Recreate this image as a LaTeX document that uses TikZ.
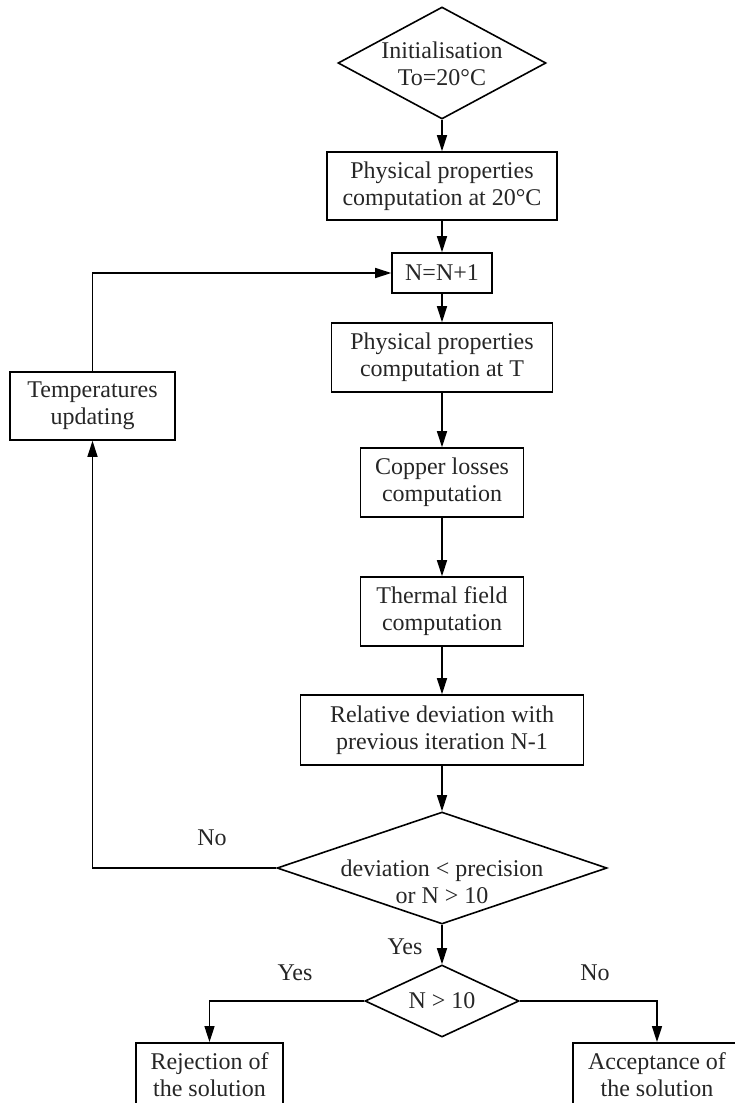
\documentclass[tikz,border=0pt]{standalone}
\usepackage{fontspec}
\setmainfont{Liberation Serif}
\usetikzlibrary{shapes.geometric,arrows.meta}
\begin{document}
\begin{tikzpicture}[x=1pt,y=-1pt,
  every node/.style={font=\fontsize{24}{27}\selectfont, text=black!85},
  box/.style={draw=black, line width=1.6pt, rectangle, inner sep=0pt, align=center},
  dia/.style={draw=black, line width=1.6pt, diamond, inner sep=0pt},
  lbl/.style={inner sep=0pt},
  arr/.style={line width=1.6pt, -{Triangle[length=16pt,width=10pt]}}]
\useasboundingbox (0,0) rectangle (735,1103);
\clip (0,0) rectangle (735,1103);
% nodes
\node[dia, minimum width=208, minimum height=112] (d1) at (442,63) {};
\node[lbl, align=center] (t1) at (442,64) {Initialisation\\To=20°C};
\node[box, minimum width=230, minimum height=68] (b2) at (442,186) {Physical properties\\computation at 20°C};
\node[box, minimum width=100, minimum height=40] (b3) at (442,273) {N=N+1};
\node[box, minimum width=221, minimum height=69] (b4) at (442,357.5) {Physical properties\\computation at T};
\node[box, minimum width=163, minimum height=69] (b5) at (442,482.5) {Copper losses\\computation};
\node[box, minimum width=163, minimum height=69] (b6) at (442,611.5) {Thermal field\\computation};
\node[box, minimum width=283, minimum height=70] (b7) at (442,730) {Relative deviation with\\previous iteration N-1};
\node[dia, minimum width=330, minimum height=112] (d2) at (442,868) {};
\node[lbl, align=center] (t2) at (442,882) {deviation < precision\\or N > 10};
\node[dia, minimum width=154, minimum height=72] (d3) at (442,1001) {};
\node[lbl] (t3) at (442,1001) {N > 10};
\node[box, minimum width=165, minimum height=68] (b8) at (92.5,406) {Temperatures\\updating};
\node[box, anchor=north, minimum width=147, minimum height=64] (b9) at (209.5,1042) {Rejection of\\the solution};
\node[box, anchor=north, minimum width=168, minimum height=64] (b10) at (657,1042) {Acceptance of\\the solution};
% labels
\node[lbl] (no1) at (212,838) {No};
\node[lbl] (yes1) at (405,947) {Yes};
\node[lbl] (yes2) at (295,973) {Yes};
\node[lbl] (no2) at (595,973) {No};
% connectors
\draw[arr] (d1.south) -- (b2.north);
\draw[arr] (b2.south) -- (b3.north);
\draw[arr] (b3.south) -- (b4.north);
\draw[arr] (b4.south) -- (b5.north);
\draw[arr] (b5.south) -- (b6.north);
\draw[arr] (b6.south) -- (b7.north);
\draw[arr] (b7.south) -- (d2.north);
\draw[arr] (d2.south) -- (d3.north);
\draw[arr] (b8.north) |- (b3.west);
\draw[arr] (d2.west) -| (b8.south);
\draw[arr] (d3.west) -| (b9.north);
\draw[arr] (d3.east) -| (b10.north);
\end{tikzpicture}
\end{document}
